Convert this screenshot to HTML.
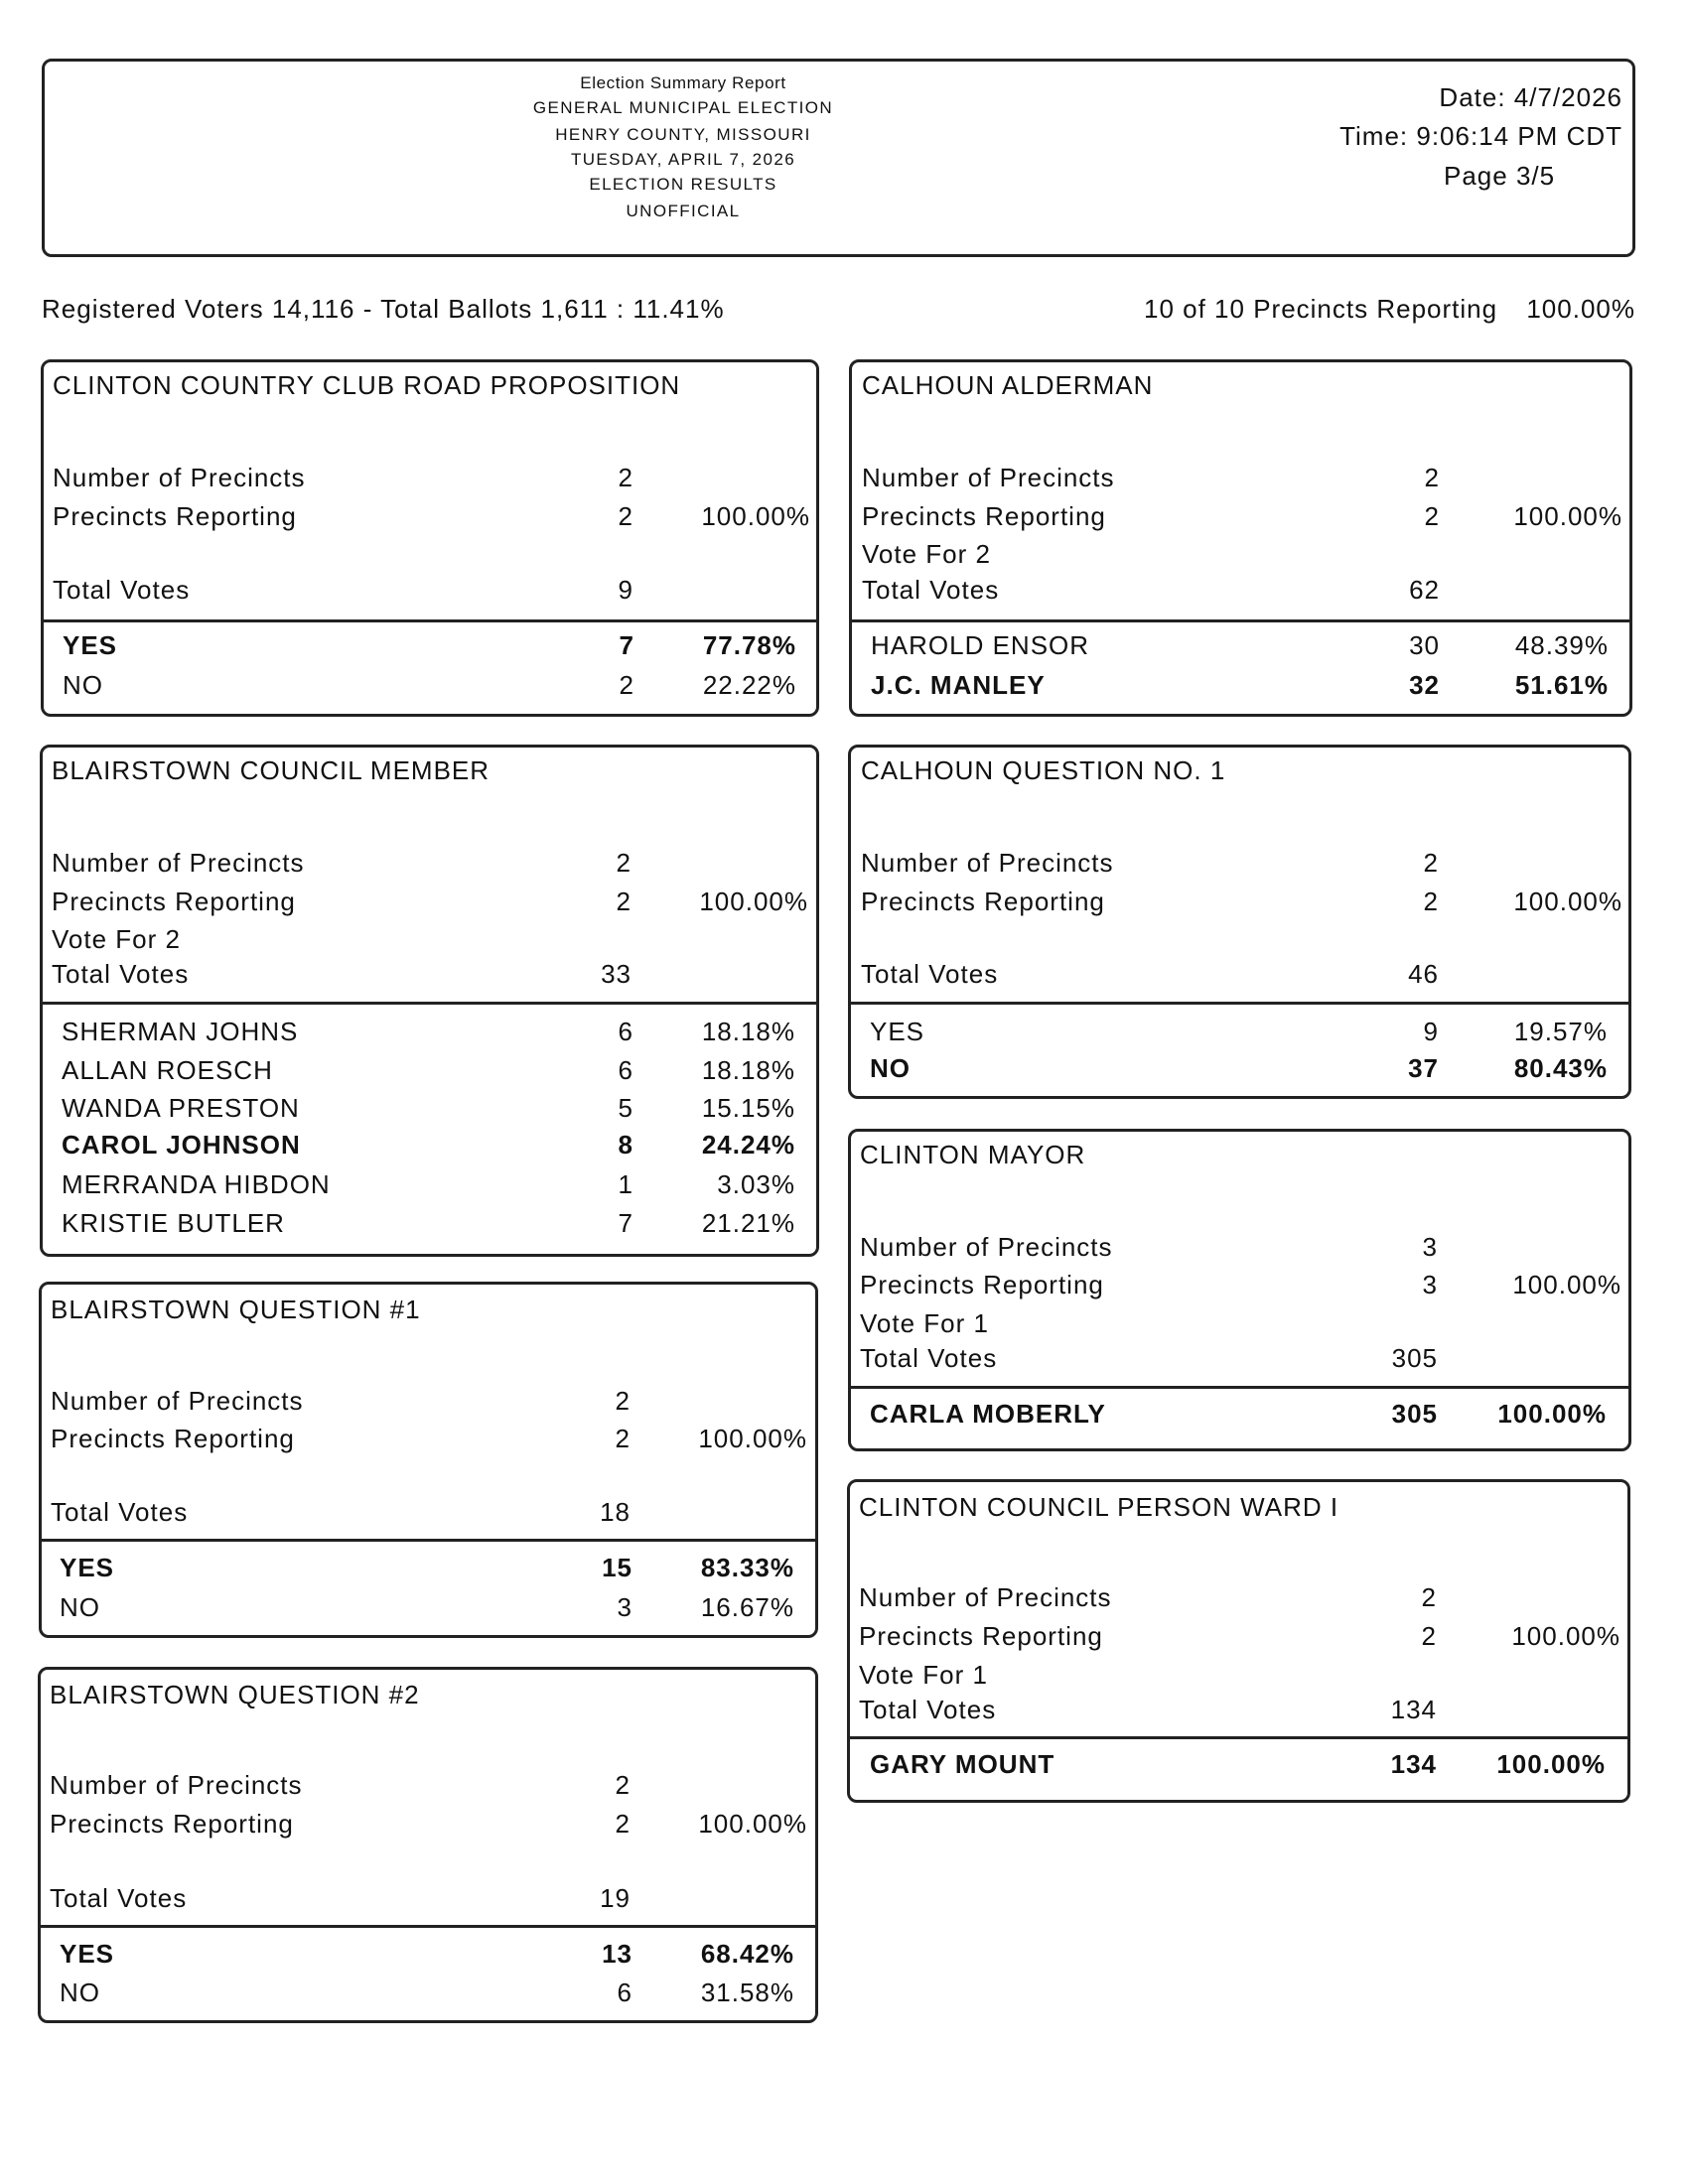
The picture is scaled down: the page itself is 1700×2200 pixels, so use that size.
<!DOCTYPE html>
<html><head><meta charset="utf-8"><style>
body{margin:0;background:#fff}
#p{position:relative;width:1700px;height:2200px;overflow:hidden;font-family:"Liberation Sans",sans-serif;color:#111}
.b{position:absolute;border:3px solid #222;border-radius:10px;box-sizing:border-box}
.l{position:absolute;height:3px;background:#222}
.t{position:absolute;font-size:26px;line-height:30px;white-space:nowrap;letter-spacing:1px}
.h{position:absolute;font-size:17px;line-height:20px;white-space:nowrap;left:438px;width:500px;text-align:center;letter-spacing:1.4px}
.bd{font-weight:bold}
</style></head><body><div id="p">
<div class="b" style="left:42px;top:59px;width:1605px;height:200px"></div>
<div class="h" style="top:74px;letter-spacing:0.6px">Election Summary Report</div>
<div class="h" style="top:99px">GENERAL MUNICIPAL ELECTION</div>
<div class="h" style="top:126px">HENRY COUNTY, MISSOURI</div>
<div class="h" style="top:151px">TUESDAY, APRIL 7, 2026</div>
<div class="h" style="top:176px">ELECTION RESULTS</div>
<div class="h" style="top:203px">UNOFFICIAL</div>
<div class="t" style="right:66px;top:83px">Date: 4/7/2026</div>
<div class="t" style="right:66px;top:122px">Time: 9:06:14 PM CDT</div>
<div class="t" style="left:1454px;top:162px">Page 3/5</div>
<div class="t" style="left:42px;top:296px">Registered Voters 14,116 - Total Ballots 1,611 : 11.41%</div>
<div class="t" style="left:1152px;top:296px">10 of 10 Precincts Reporting</div>
<div class="t" style="right:53px;top:296px">100.00%</div>

<div class="b" style="left:41px;top:362px;width:784px;height:360px"></div>
<div class="l" style="left:41px;top:624px;width:784px"></div>
<div class="t" style="left:53px;top:373px">CLINTON COUNTRY CLUB ROAD PROPOSITION</div>
<div class="t" style="left:53px;top:466px">Number of Precincts</div><div class="t" style="right:1062px;top:466px">2</div>
<div class="t" style="left:53px;top:505px">Precincts Reporting</div><div class="t" style="right:1062px;top:505px">2</div><div class="t" style="right:884px;top:505px">100.00%</div>
<div class="t" style="left:53px;top:579px">Total Votes</div><div class="t" style="right:1062px;top:579px">9</div>
<div class="t bd" style="left:63px;top:635px">YES</div><div class="t bd" style="right:1061px;top:635px">7</div><div class="t bd" style="right:898px;top:635px">77.78%</div>
<div class="t" style="left:63px;top:675px">NO</div><div class="t" style="right:1061px;top:675px">2</div><div class="t" style="right:898px;top:675px">22.22%</div>

<div class="b" style="left:855px;top:362px;width:789px;height:360px"></div>
<div class="l" style="left:855px;top:624px;width:789px"></div>
<div class="t" style="left:868px;top:373px">CALHOUN ALDERMAN</div>
<div class="t" style="left:868px;top:466px">Number of Precincts</div><div class="t" style="right:250px;top:466px">2</div>
<div class="t" style="left:868px;top:505px">Precincts Reporting</div><div class="t" style="right:250px;top:505px">2</div><div class="t" style="right:66px;top:505px">100.00%</div>
<div class="t" style="left:868px;top:543px">Vote For 2</div>
<div class="t" style="left:868px;top:579px">Total Votes</div><div class="t" style="right:250px;top:579px">62</div>
<div class="t" style="left:877px;top:635px">HAROLD ENSOR</div><div class="t" style="right:250px;top:635px">30</div><div class="t" style="right:80px;top:635px">48.39%</div>
<div class="t bd" style="left:877px;top:675px">J.C. MANLEY</div><div class="t bd" style="right:250px;top:675px">32</div><div class="t bd" style="right:80px;top:675px">51.61%</div>

<div class="b" style="left:40px;top:750px;width:785px;height:516px"></div>
<div class="l" style="left:40px;top:1009px;width:785px"></div>
<div class="t" style="left:52px;top:761px">BLAIRSTOWN COUNCIL MEMBER</div>
<div class="t" style="left:52px;top:854px">Number of Precincts</div><div class="t" style="right:1064px;top:854px">2</div>
<div class="t" style="left:52px;top:893px">Precincts Reporting</div><div class="t" style="right:1064px;top:893px">2</div><div class="t" style="right:886px;top:893px">100.00%</div>
<div class="t" style="left:52px;top:931px">Vote For 2</div>
<div class="t" style="left:52px;top:966px">Total Votes</div><div class="t" style="right:1064px;top:966px">33</div>
<div class="t" style="left:62px;top:1024px">SHERMAN JOHNS</div><div class="t" style="right:1062px;top:1024px">6</div><div class="t" style="right:899px;top:1024px">18.18%</div>
<div class="t" style="left:62px;top:1063px">ALLAN ROESCH</div><div class="t" style="right:1062px;top:1063px">6</div><div class="t" style="right:899px;top:1063px">18.18%</div>
<div class="t" style="left:62px;top:1101px">WANDA PRESTON</div><div class="t" style="right:1062px;top:1101px">5</div><div class="t" style="right:899px;top:1101px">15.15%</div>
<div class="t bd" style="left:62px;top:1138px">CAROL JOHNSON</div><div class="t bd" style="right:1062px;top:1138px">8</div><div class="t bd" style="right:899px;top:1138px">24.24%</div>
<div class="t" style="left:62px;top:1178px">MERRANDA HIBDON</div><div class="t" style="right:1062px;top:1178px">1</div><div class="t" style="right:899px;top:1178px">3.03%</div>
<div class="t" style="left:62px;top:1217px">KRISTIE BUTLER</div><div class="t" style="right:1062px;top:1217px">7</div><div class="t" style="right:899px;top:1217px">21.21%</div>

<div class="b" style="left:39px;top:1291px;width:785px;height:359px"></div>
<div class="l" style="left:39px;top:1550px;width:785px"></div>
<div class="t" style="left:51px;top:1304px">BLAIRSTOWN QUESTION #1</div>
<div class="t" style="left:51px;top:1396px">Number of Precincts</div><div class="t" style="right:1065px;top:1396px">2</div>
<div class="t" style="left:51px;top:1434px">Precincts Reporting</div><div class="t" style="right:1065px;top:1434px">2</div><div class="t" style="right:887px;top:1434px">100.00%</div>
<div class="t" style="left:51px;top:1508px">Total Votes</div><div class="t" style="right:1065px;top:1508px">18</div>
<div class="t bd" style="left:60px;top:1564px">YES</div><div class="t bd" style="right:1063px;top:1564px">15</div><div class="t bd" style="right:900px;top:1564px">83.33%</div>
<div class="t" style="left:60px;top:1604px">NO</div><div class="t" style="right:1063px;top:1604px">3</div><div class="t" style="right:900px;top:1604px">16.67%</div>

<div class="b" style="left:38px;top:1679px;width:786px;height:359px"></div>
<div class="l" style="left:38px;top:1939px;width:786px"></div>
<div class="t" style="left:50px;top:1692px">BLAIRSTOWN QUESTION #2</div>
<div class="t" style="left:50px;top:1783px">Number of Precincts</div><div class="t" style="right:1065px;top:1783px">2</div>
<div class="t" style="left:50px;top:1822px">Precincts Reporting</div><div class="t" style="right:1065px;top:1822px">2</div><div class="t" style="right:887px;top:1822px">100.00%</div>
<div class="t" style="left:50px;top:1897px">Total Votes</div><div class="t" style="right:1065px;top:1897px">19</div>
<div class="t bd" style="left:60px;top:1953px">YES</div><div class="t bd" style="right:1063px;top:1953px">13</div><div class="t bd" style="right:900px;top:1953px">68.42%</div>
<div class="t" style="left:60px;top:1992px">NO</div><div class="t" style="right:1063px;top:1992px">6</div><div class="t" style="right:900px;top:1992px">31.58%</div>

<div class="b" style="left:854px;top:750px;width:789px;height:357px"></div>
<div class="l" style="left:854px;top:1009px;width:789px"></div>
<div class="t" style="left:867px;top:761px">CALHOUN QUESTION NO. 1</div>
<div class="t" style="left:867px;top:854px">Number of Precincts</div><div class="t" style="right:251px;top:854px">2</div>
<div class="t" style="left:867px;top:893px">Precincts Reporting</div><div class="t" style="right:251px;top:893px">2</div><div class="t" style="right:66px;top:893px">100.00%</div>
<div class="t" style="left:867px;top:966px">Total Votes</div><div class="t" style="right:251px;top:966px">46</div>
<div class="t" style="left:876px;top:1024px">YES</div><div class="t" style="right:251px;top:1024px">9</div><div class="t" style="right:81px;top:1024px">19.57%</div>
<div class="t bd" style="left:876px;top:1061px">NO</div><div class="t bd" style="right:251px;top:1061px">37</div><div class="t bd" style="right:81px;top:1061px">80.43%</div>

<div class="b" style="left:854px;top:1137px;width:789px;height:325px"></div>
<div class="l" style="left:854px;top:1396px;width:789px"></div>
<div class="t" style="left:866px;top:1148px">CLINTON MAYOR</div>
<div class="t" style="left:866px;top:1241px">Number of Precincts</div><div class="t" style="right:252px;top:1241px">3</div>
<div class="t" style="left:866px;top:1279px">Precincts Reporting</div><div class="t" style="right:252px;top:1279px">3</div><div class="t" style="right:67px;top:1279px">100.00%</div>
<div class="t" style="left:866px;top:1318px">Vote For 1</div>
<div class="t" style="left:866px;top:1353px">Total Votes</div><div class="t" style="right:252px;top:1353px">305</div>
<div class="t bd" style="left:876px;top:1409px">CARLA MOBERLY</div><div class="t bd" style="right:252px;top:1409px">305</div><div class="t bd" style="right:82px;top:1409px">100.00%</div>

<div class="b" style="left:853px;top:1490px;width:789px;height:326px"></div>
<div class="l" style="left:853px;top:1749px;width:789px"></div>
<div class="t" style="left:865px;top:1503px">CLINTON COUNCIL PERSON WARD I</div>
<div class="t" style="left:865px;top:1594px">Number of Precincts</div><div class="t" style="right:253px;top:1594px">2</div>
<div class="t" style="left:865px;top:1633px">Precincts Reporting</div><div class="t" style="right:253px;top:1633px">2</div><div class="t" style="right:68px;top:1633px">100.00%</div>
<div class="t" style="left:865px;top:1672px">Vote For 1</div>
<div class="t" style="left:865px;top:1707px">Total Votes</div><div class="t" style="right:253px;top:1707px">134</div>
<div class="t bd" style="left:876px;top:1762px">GARY MOUNT</div><div class="t bd" style="right:253px;top:1762px">134</div><div class="t bd" style="right:83px;top:1762px">100.00%</div>
</div></body></html>
